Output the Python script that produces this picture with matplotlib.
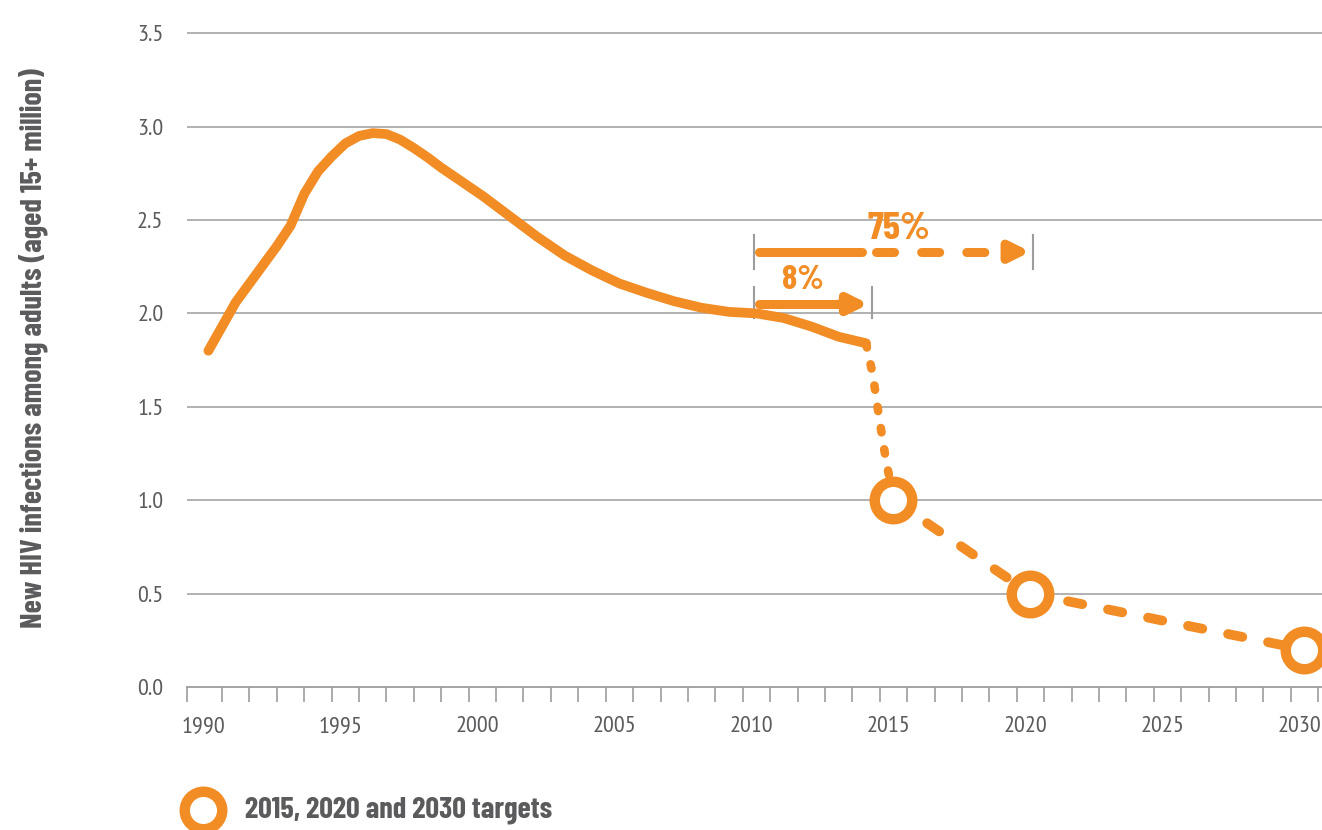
import matplotlib.pyplot as plt
from matplotlib.lines import Line2D
from matplotlib.transforms import ScaledTranslation

# new HIV infections among adults (millions)
years = [1990, 1990.5, 1991, 1991.5, 1992, 1992.5, 1993, 1993.5, 1994, 1994.5,
         1995, 1995.5, 1996, 1996.5, 1997, 1997.5, 1998, 1998.5, 1999, 1999.5,
         2000, 2001, 2002, 2003, 2004, 2005, 2006, 2007, 2008, 2009,
         2010, 2011, 2012, 2013, 2014]
infections = [1.80, 1.93, 2.06, 2.16, 2.26, 2.36, 2.47, 2.64, 2.76, 2.84,
              2.91, 2.95, 2.965, 2.96, 2.93, 2.885, 2.835, 2.78, 2.73, 2.68,
              2.63, 2.52, 2.41, 2.31, 2.23, 2.16, 2.11, 2.065, 2.03, 2.008,
              2.00, 1.975, 1.93, 1.875, 1.84]

# dotted drop from 2014 to the 2015 target
drop_years = [2014, 2014.25, 2014.48, 2014.7, 2014.88, 2015]
drop_values = [1.84, 1.67, 1.44, 1.24, 1.10, 1.00]

target_years = [2015, 2020, 2030]
target_values = [1.0, 0.5, 0.2]

tick_years = [1990, 1995, 2000, 2005, 2010, 2015, 2020, 2025, 2030]
y_ticks = [0.0, 0.5, 1.0, 1.5, 2.0, 2.5, 3.0, 3.5]

orange = '#F28C24'
grey = '#9D9D9D'
text_grey = '#5B5B5D'
cond = ['Barlow Condensed', 'DejaVu Sans']
narrow = ['PT Sans Narrow', 'DejaVu Sans']

fig = plt.figure(figsize=(13.22, 8.30), dpi=100)
ax = fig.add_axes([187 / 1322, 1 - 687 / 830, 1 - 187 / 1322, (687 - 14.5) / 830])

xmin, xmax = 1989.22, 2030.64
ax.set_xlim(xmin, xmax)
ax.set_ylim(0, 3.6)

# gridlines
for v in y_ticks[1:]:
    ax.axhline(v, color=grey, lw=1.1, zorder=1)

# main series
ax.plot(years, infections, color=orange, lw=7, solid_capstyle='round',
        solid_joinstyle='round', zorder=3)
ax.plot(drop_years, drop_values, color=orange, lw=6.2, dashes=(0.5, 2.0),
        dash_capstyle='round', zorder=3)
ax.plot(target_years, target_values, color=orange, lw=7, dashes=(1.5, 2.7),
        dash_capstyle='round', zorder=3)
ax.plot(target_years, target_values, ls='none', marker='o', markersize=27,
        markeredgewidth=7.5, markerfacecolor='white', markeredgecolor=orange,
        zorder=4, clip_on=False)

# reduction arrows
def bar(x, y0, y1):
    ax.plot([x, x], [y0, y1], color=grey, lw=1.5, zorder=2)

def head(x0, x1, y):
    ax.annotate('', xy=(x1, y), xytext=(x0, y),
                arrowprops=dict(arrowstyle='-|>,head_length=1.1,head_width=0.55',
                                color=orange, lw=6.5, shrinkA=0, shrinkB=0),
                zorder=3)

# 75% (2010 -> 2020)
bar(2009.9, 2.24, 2.42)
bar(2020.1, 2.24, 2.42)
ax.plot([2010.1, 2013.85], [2.33, 2.33], color=orange, lw=6.5,
        solid_capstyle='round', zorder=3)
ax.plot([2014.35, 2019.0], [2.33, 2.33], color=orange, lw=6.5,
        dashes=(2.0, 3.0), dash_capstyle='round', zorder=3)
head(2019.2, 2020.0, 2.33)
ax.text(2015.2, 2.45, '75%', color=orange, fontsize=28, fontweight='bold',
        family=cond, ha='center', va='center')

# 8% (2010 -> 2014)
bar(2009.9, 1.975, 2.14)
bar(2014.2, 1.975, 2.14)
ax.plot([2010.1, 2013.2], [2.05, 2.05], color=orange, lw=6.5,
        solid_capstyle='round', zorder=3)
head(2013.0, 2014.1, 2.05)
ax.text(2011.7, 2.18, '8%', color=orange, fontsize=25, fontweight='bold',
        family=cond, ha='center', va='center')

# axes styling
for s in ['top', 'right', 'left']:
    ax.spines[s].set_visible(False)
ax.spines['bottom'].set_color(grey)
ax.spines['bottom'].set_linewidth(1.3)

ax.set_xticks(tick_years)
ax.set_xticklabels([str(y) for y in tick_years])
minor = [xmin] + [y + 0.5 for y in range(1990, 2031)]
ax.set_xticks(minor, minor=True)
ax.tick_params(axis='x', which='major', length=0, pad=21, labelsize=17.5,
               labelcolor=text_grey)
ax.tick_params(axis='x', which='minor', length=11, width=1.2, color=grey,
               direction='out')
ax.set_yticks(y_ticks)
ax.set_yticklabels(['%.1f' % v for v in y_ticks])
ax.tick_params(axis='y', length=0, pad=17, labelsize=17.5, labelcolor=text_grey)
# year labels sit a few pixels left of the year centres in the original
shift = ScaledTranslation(-5 / 100, 0, fig.dpi_scale_trans)
for lab in ax.get_xticklabels():
    lab.set_family(narrow)
    lab.set_transform(lab.get_transform() + shift)
for lab in ax.get_yticklabels():
    lab.set_family(narrow)

fig.text(33 / 1322, 1 - 348 / 830,
         'New HIV infections among adults (aged 15+ million)',
         rotation=90, ha='center', va='center', fontsize=21.8,
         fontweight='bold', color=text_grey, family=cond)

# legend
fig.add_artist(Line2D([203 / 1322], [1 - 810 / 830], ls='none', marker='o',
                      markersize=27, markeredgewidth=7.5, markerfacecolor='white',
                      markeredgecolor=orange, transform=fig.transFigure))
fig.text(245 / 1322, 1 - 810 / 830, '2015, 2020 and 2030 targets',
         ha='left', va='center', fontsize=21.8, fontweight='bold',
         color=text_grey, family=cond)

fig.savefig('out.png', dpi=100)
